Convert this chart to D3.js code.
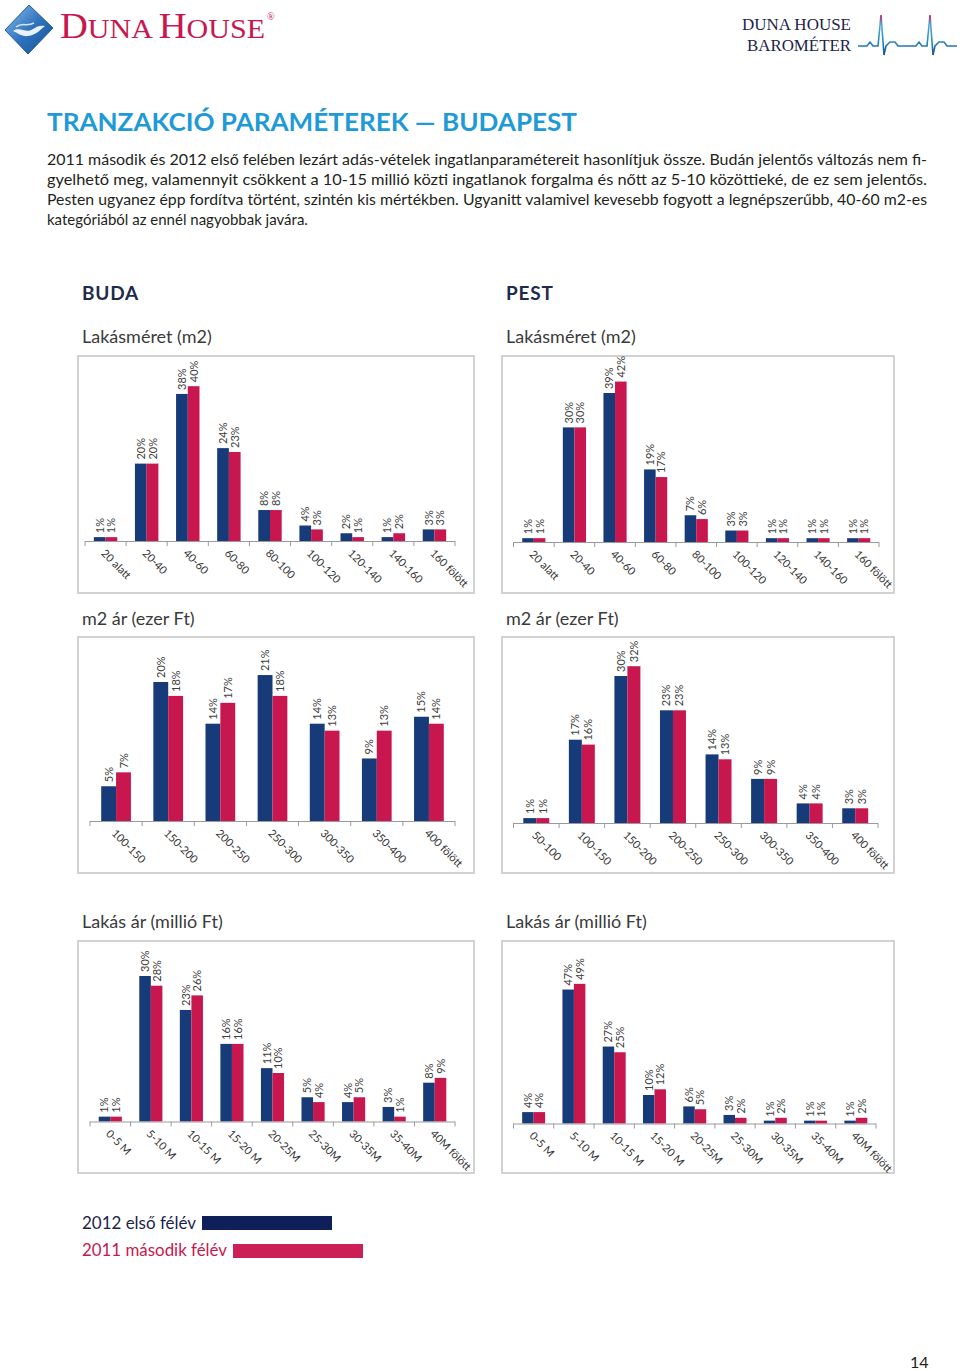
<!DOCTYPE html>
<html><head><meta charset="utf-8">
<script src="https://cdn.jsdelivr.net/npm/d3@7"></script>
<style>body{margin:0;background:#fff}svg{display:block}</style>
</head><body>
<script>
// ---------- DATA ----------
const seriesNames = ["2012 első félév", "2011 második félév"];

const sizeCats = ["20 alatt","20-40","40-60","60-80","80-100","100-120","120-140","140-160","160 fölött"];
const budaSize2012 = [1,20,38,24,8,4,2,1,3];
const budaSize2011 = [1,20,40,23,8,3,1,2,3];
const pestSize2012 = [1,30,39,19,7,3,1,1,1];
const pestSize2011 = [1,30,42,17,6,3,1,1,1];

const budaM2Cats = ["100-150","150-200","200-250","250-300","300-350","350-400","400 fölött"];
const budaM2_2012 = [5,20,14,21,14,9,15];
const budaM2_2011 = [7,18,17,18,13,13,14];

const pestM2Cats = ["50-100","100-150","150-200","200-250","250-300","300-350","350-400","400 fölött"];
const pestM2_2012 = [1,17,30,23,14,9,4,3];
const pestM2_2011 = [1,16,32,23,13,9,4,3];

const priceCats = ["0-5 M","5-10 M","10-15 M","15-20 M","20-25M","25-30M","30-35M","35-40M","40M fölött"];
const budaPrice2012 = [1,30,23,16,11,5,4,3,8];
const budaPrice2011 = [1,28,26,16,10,4,5,1,9];
const pestPrice2012 = [4,47,27,10,6,3,1,1,1];
const pestPrice2011 = [4,49,25,12,5,2,2,1,2];

const paragraphLines = [
  "2011 második és 2012 első felében lezárt adás-vételek ingatlanparamétereit hasonlítjuk össze. Budán jelentős változás nem fi-",
  "gyelhető meg, valamennyit csökkent a 10-15 millió közti ingatlanok forgalma és nőtt az 5-10 közöttieké, de ez sem jelentős.",
  "Pesten ugyanez épp fordítva történt, szintén kis mértékben. Ugyanitt valamivel kevesebb fogyott a legnépszerűbb, 40-60 m2-es",
  "kategóriából az ennél nagyobbak javára."
];

// ---------- STYLE ----------
const NAVY = "#173a78", RED = "#c8174f";
const FONT = "Lato, 'Open Sans', sans-serif";

const W = 960, H = 1371;
const svg = d3.select("body").append("svg").attr("width", W).attr("height", H);
const defs = svg.append("defs");

// ---------- HEADER ----------
const lg = defs.append("linearGradient").attr("id","logoGrad").attr("x1","0").attr("y1","0").attr("x2","1").attr("y2","1");
lg.append("stop").attr("offset","0").attr("stop-color","#8fc0ea");
lg.append("stop").attr("offset","0.5").attr("stop-color","#2f74bf");
lg.append("stop").attr("offset","1").attr("stop-color","#174f95");
svg.append("path").attr("d","M5,30 L29,5 L53,28 L28,54 Z").attr("fill","url(#logoGrad)")
  .attr("stroke","#1c5aa0").attr("stroke-width",1).attr("stroke-linejoin","round");
svg.append("path").attr("d","M13,31 C20,26 26,34 33,29 C37,26 41,25 45,26 C40,30 36,35 28,36 C22,37 18,33 13,31 Z").attr("fill","#ffffff").attr("opacity",0.9);
svg.append("path").attr("d","M16,27 C22,22 27,27 34,23").attr("fill","none").attr("stroke","#ffffff").attr("stroke-width",1.5).attr("opacity",0.8);

const brand = svg.append("text").attr("x",60).attr("y",38).attr("fill",RED)
  .attr("font-family","'Liberation Serif','DejaVu Serif',serif")
  .attr("textLength",205).attr("lengthAdjust","spacingAndGlyphs");
brand.append("tspan").attr("font-size",36).text("D");
brand.append("tspan").attr("font-size",28).text("UNA ");
brand.append("tspan").attr("font-size",36).text("H");
brand.append("tspan").attr("font-size",28).text("OUSE");
svg.append("text").attr("x",267).attr("y",20).attr("font-size",10).attr("fill",RED)
  .attr("font-family","'Liberation Serif',serif").text("®");

svg.append("text").attr("x",742).attr("y",30).attr("font-size",17).attr("fill","#1d2448")
  .attr("font-family","'Liberation Serif',serif").attr("textLength",109).attr("lengthAdjust","spacingAndGlyphs").text("DUNA HOUSE");
svg.append("text").attr("x",747).attr("y",51).attr("font-size",17).attr("fill","#1d2448")
  .attr("font-family","'Liberation Serif',serif").attr("textLength",104).attr("lengthAdjust","spacingAndGlyphs").text("BAROMÉTER");
const hg = defs.append("linearGradient").attr("id","hbGrad").attr("gradientUnits","userSpaceOnUse")
  .attr("x1",0).attr("y1",14).attr("x2",0).attr("y2",56);
hg.append("stop").attr("offset","0").attr("stop-color","#c8174f");
hg.append("stop").attr("offset","0.25").attr("stop-color","#5aa6d6");
hg.append("stop").attr("offset","0.6").attr("stop-color","#2a8fc8");
hg.append("stop").attr("offset","1").attr("stop-color","#1f4f8f");
svg.append("path").attr("fill","none").attr("stroke","url(#hbGrad)").attr("stroke-width",1.6)
  .attr("d","M858,46 L867,46 L870,42 L873,46 L878,46 L881,15 L884,55 L886,46 L890,42 L895,42 L898,46 L916,46 L919,42 L922,46 L927,46 L930,15 L933,55 L935,46 L939,42 L944,42 L947,46 L957,46");

// ---------- TITLE & PARAGRAPH ----------
svg.append("text").attr("x",47).attr("y",131).attr("font-family",FONT).attr("font-weight",700)
  .attr("font-size",25).attr("fill","#1e9ad6").attr("textLength",530).attr("lengthAdjust","spacingAndGlyphs")
  .text("TRANZAKCIÓ PARAMÉTEREK — BUDAPEST");

paragraphLines.forEach((t,i)=>{
  const tx = svg.append("text").attr("x",47).attr("y",165 + i*20).attr("font-family",FONT)
    .attr("font-size",15).attr("fill","#231f20").text(t);
  if (i < 3) tx.attr("textLength",880).attr("lengthAdjust","spacingAndGlyphs");
});

// ---------- SECTION HEADINGS ----------
[["BUDA",82],["PEST",506]].forEach(([t,x])=>{
  svg.append("text").attr("x",x).attr("y",300).attr("font-family",FONT).attr("font-weight",700)
    .attr("font-size",19).attr("fill","#1f2a4d").attr("letter-spacing",0.8).text(t);
});
const subtitles = [["Lakásméret (m2)",343],["m2 ár (ezer Ft)",625],["Lakás ár (millió Ft)",928]];
subtitles.forEach(([t,y])=>{
  [82,506].forEach(x=>{
    svg.append("text").attr("x",x).attr("y",y).attr("font-family",FONT)
      .attr("font-size",18).attr("fill","#3a3a3a").text(t);
  });
});

// ---------- CHARTS ----------
function drawChart(cfg, cats, s2012, s2011){
  const g = svg.append("g");
  g.append("rect").attr("x",cfg.fx).attr("y",cfg.fy).attr("width",cfg.fw).attr("height",cfg.fh)
    .attr("fill","#fff").attr("stroke","#c4c4c4").attr("stroke-width",1.5);
  const x = d3.scaleBand().domain(cats).range([cfg.x0,cfg.x1]).paddingInner(0.43).paddingOuter(0.215);
  const xs = d3.scaleBand().domain([0,1]).range([0,x.bandwidth()]);
  const y = d3.scaleLinear().domain([0,cfg.max]).range([cfg.base, cfg.base - cfg.max*cfg.ppp]);
  const colors = [NAVY, RED];
  const rows = cats.map((c,i)=>({cat:c, vals:[s2012[i], s2011[i]]}));
  const grp = g.selectAll("g.grp").data(rows).join("g").attr("class","grp")
    .attr("transform", d=>`translate(${x(d.cat)},0)`);
  grp.selectAll("rect").data(d=>d.vals.map((v,k)=>({v,k}))).join("rect")
    .attr("x", d=>xs(d.k)).attr("width", xs.bandwidth())
    .attr("y", d=>y(d.v)).attr("height", d=>cfg.base - y(d.v))
    .attr("fill", d=>colors[d.k]);
  grp.selectAll("text.val").data(d=>d.vals.map((v,k)=>({v,k}))).join("text").attr("class","val")
    .attr("transform", d=>`translate(${xs(d.k)+xs.bandwidth()/2+4},${y(d.v)-4}) rotate(-90)`)
    .attr("font-family",FONT).attr("font-size",11).attr("fill","#404040")
    .text(d=>d.v+"%");
  // axis line + ticks at category boundaries
  g.append("line").attr("x1",cfg.x0).attr("x2",cfg.x1).attr("y1",cfg.base+0.5).attr("y2",cfg.base+0.5)
    .attr("stroke","#9a9a9a").attr("stroke-width",1);
  d3.range(cats.length+1).forEach(k=>{
    const xx = cfg.x0 + k*x.step();
    g.append("line").attr("x1",xx).attr("x2",xx).attr("y1",cfg.base).attr("y2",cfg.base+5)
      .attr("stroke","#9a9a9a").attr("stroke-width",1);
  });
  g.selectAll("text.cat").data(cats).join("text").attr("class","cat")
    .attr("transform", d=>`translate(${x(d)+x.bandwidth()/2-5},${cfg.base+13}) rotate(45)`)
    .attr("font-family",FONT).attr("font-size",11).attr("fill","#333")
    .text(d=>d);
}

drawChart({fx:78,fy:356,fw:396,fh:237,x0:85,x1:455,base:541,max:45,ppp:3.87}, sizeCats, budaSize2012, budaSize2011);
drawChart({fx:502,fy:356,fw:392,fh:237,x0:513.5,x1:879,base:542,max:45,ppp:3.82}, sizeCats, pestSize2012, pestSize2011);
drawChart({fx:78,fy:637,fw:396,fh:236,x0:90,x1:455,base:821,max:25,ppp:6.95}, budaM2Cats, budaM2_2012, budaM2_2011);
drawChart({fx:502,fy:637,fw:392,fh:236,x0:513.5,x1:878,base:823,max:35,ppp:4.9}, pestM2Cats, pestM2_2012, pestM2_2011);
drawChart({fx:78,fy:941,fw:396,fh:232,x0:90,x1:455,base:1121.5,max:35,ppp:4.85}, priceCats, budaPrice2012, budaPrice2011);
drawChart({fx:502,fy:941,fw:392,fh:232,x0:513.5,x1:876,base:1123.5,max:60,ppp:2.85}, priceCats, pestPrice2012, pestPrice2011);

// ---------- LEGEND ----------
const legend = [
  {name: seriesNames[0], color:"#1a1f4d", fill:"#0f1f5a", tx:82, ty:1229, tl:114, rx:202, ry:1216},
  {name: seriesNames[1], color:RED, fill:"#cc1f55", tx:82, ty:1256, tl:145, rx:233, ry:1244}
];
legend.forEach(l=>{
  svg.append("text").attr("x",l.tx).attr("y",l.ty).attr("font-family",FONT).attr("font-size",18)
    .attr("fill",l.color).attr("textLength",l.tl).attr("lengthAdjust","spacingAndGlyphs").text(l.name);
  svg.append("rect").attr("x",l.rx).attr("y",l.ry).attr("width",130).attr("height",14).attr("fill",l.fill);
});

svg.append("text").attr("x",910).attr("y",1368).attr("font-family",FONT).attr("font-size",16)
  .attr("fill","#222").text("14");
</script>
</body></html>
